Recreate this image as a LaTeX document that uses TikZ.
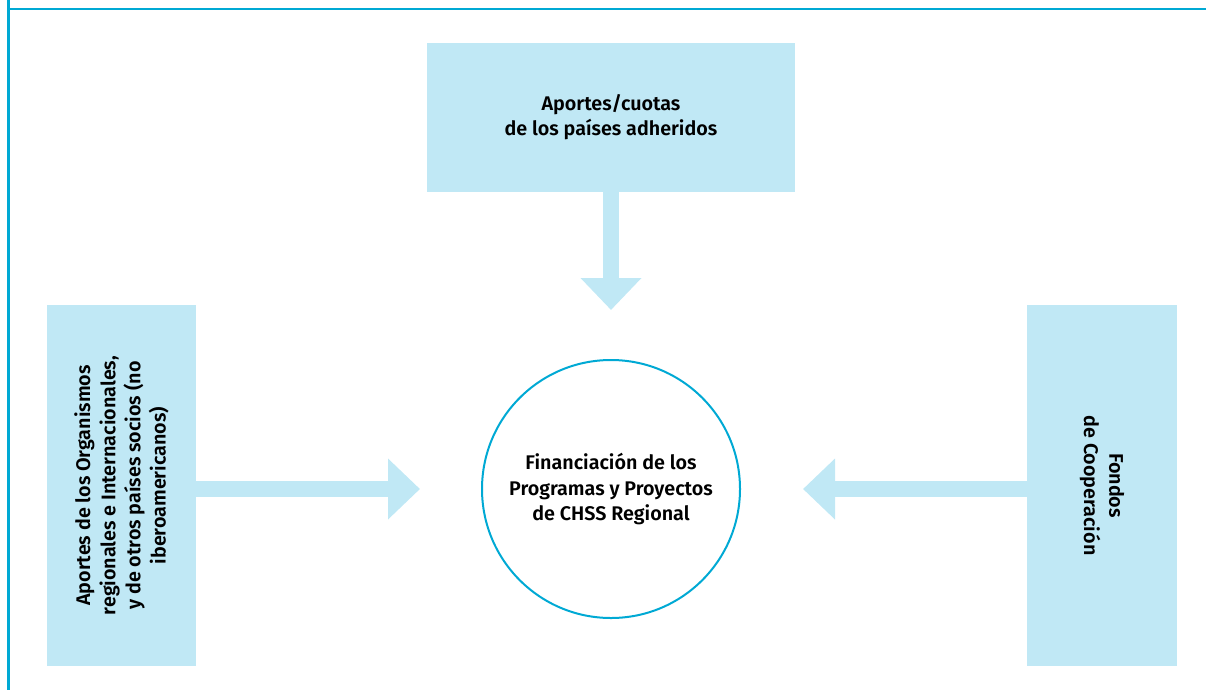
\documentclass[tikz,border=0pt]{standalone}
\usepackage{fontspec}
\setmainfont{Fira Sans}[UprightFont=* SemiBold]
\usetikzlibrary{arrows.meta,positioning}
\definecolor{boxblue}{HTML}{C0E8F5}
\definecolor{framecyan}{HTML}{00A9D4}

\begin{document}
\begin{tikzpicture}[
  x=0.75pt,y=-0.75pt,
  every node/.style={align=center,font=\fontsize{14.8}{18.9}\selectfont},
  sourcebox/.style={fill=boxblue,inner sep=0pt},
  flowarrow/.style={draw=boxblue,line width=12pt,-{Triangle[width=44.25pt,length=24pt]}}
]
  \useasboundingbox (0,0) rectangle (1206,690);
  % frame
  \draw[framecyan,line width=1.8pt] (8.5,0) -- (8.5,690);
  \draw[framecyan,line width=1.9pt] (8.5,9) -- (1206,9);

  \node[draw=framecyan,line width=1.5pt,circle,minimum size=193.5pt] (fin) at (611,489)
    {Financiación de los\\Programas y Proyectos\\de CHSS Regional};
  \node[sourcebox,minimum width=276pt,minimum height=111.75pt] (cuotas) at (611,117.5)
    {Aportes/cuotas\\de los países adheridos};
  \node[sourcebox,rotate=90,minimum width=270.75pt,minimum height=111.75pt] (organismos) at (121.5,485.5)
    {Aportes de los Organismos\\regionales e Internacionales,\\y de otros países socios (no\\iberoamericanos)};
  \node[sourcebox,rotate=-90,minimum width=270.75pt,minimum height=112.5pt] (fondos) at (1102,485.5)
    {Fondos\\de Cooperación};

  \draw[flowarrow,shorten >=36.75pt] (cuotas) -- (fin);
  \draw[flowarrow,shorten >=45.75pt] (organismos.south |- fin) -- (fin);
  \draw[flowarrow,shorten >=46.5pt] (fondos.south |- fin) -- (fin);
\end{tikzpicture}
\end{document}
